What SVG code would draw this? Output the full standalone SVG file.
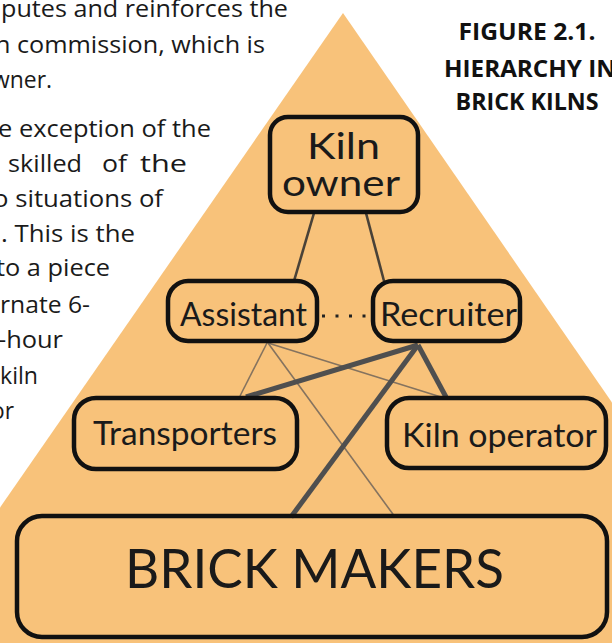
<svg xmlns="http://www.w3.org/2000/svg" width="612" height="643" viewBox="0 0 612 643">
<style>
.body{font-family:"Open Sans","Liberation Sans",sans-serif;font-size:24px;fill:#1a1a1a}
.title{font-family:"Open Sans","Liberation Sans",sans-serif;font-size:24px;font-weight:bold;fill:#111}
.box{fill:none;stroke:#111;stroke-width:4.5}
.lbl{font-family:Lato,"Noto Sans",sans-serif;fill:#1a1a1a}
.mid{font-size:33px}
.thin{stroke:#85735f;stroke-width:1.6;fill:none}
.med{stroke:#4a4238;stroke-width:2.6;fill:none}
.thick{stroke:#4f4f4f;stroke-width:5;fill:none}
</style>
<rect x="0" y="0" width="612" height="643" fill="#fff"/>
<polygon id="pyramid" points="343,13 778,643 -94,643" fill="#F8C27A"/>

<g id="page-text">
<text class="body" x="1" y="17" textLength="287" lengthAdjust="spacingAndGlyphs">putes and reinforces the</text>
<text class="body" x="-5" y="53" textLength="270" lengthAdjust="spacingAndGlyphs">n commission, which is</text>
<text class="body" x="-8" y="88" textLength="60" lengthAdjust="spacingAndGlyphs">wner.</text>
<text class="body" x="-2" y="137" textLength="213" lengthAdjust="spacingAndGlyphs">e exception of the</text>
<text class="body" y="172"><tspan x="8" textLength="74" lengthAdjust="spacingAndGlyphs">skilled</tspan><tspan x="102" textLength="25" lengthAdjust="spacingAndGlyphs">of</tspan><tspan x="140" textLength="47" lengthAdjust="spacingAndGlyphs">the</tspan></text>
<text class="body" x="-7" y="207" textLength="170" lengthAdjust="spacingAndGlyphs">o situations of</text>
<text class="body" x="1" y="242" textLength="134" lengthAdjust="spacingAndGlyphs">. This is the</text>
<text class="body" x="-4" y="276" textLength="114" lengthAdjust="spacingAndGlyphs">to a piece</text>
<text class="body" x="0" y="313" textLength="90" lengthAdjust="spacingAndGlyphs">rnate 6-</text>
<text class="body" x="-2" y="348" textLength="65" lengthAdjust="spacingAndGlyphs">-hour</text>
<text class="body" x="0" y="384" textLength="38" lengthAdjust="spacingAndGlyphs">kiln</text>
<text class="body" x="-9" y="419" textLength="23" lengthAdjust="spacingAndGlyphs">or</text>
</g>

<g id="figure-title">
<text class="title" x="527" y="40" text-anchor="middle" textLength="137" lengthAdjust="spacingAndGlyphs">FIGURE 2.1.</text>
<text class="title" x="444" y="77" textLength="172" lengthAdjust="spacingAndGlyphs">HIERARCHY IN</text>
<text class="title" x="527" y="110" text-anchor="middle" textLength="143" lengthAdjust="spacingAndGlyphs">BRICK KILNS</text>
</g>

<g id="connectors">
<line class="med" x1="314" y1="213" x2="294" y2="281"/>
<line class="med" x1="366" y1="213" x2="384" y2="281"/>
<line x1="322" y1="316" x2="366" y2="316" stroke="#222" stroke-width="3" stroke-dasharray="3 10.5"/>
<line class="thin" x1="267" y1="343" x2="240" y2="396"/>
<line class="thin" x1="268" y1="343" x2="441" y2="397"/>
<line class="thin" x1="268" y1="343" x2="395" y2="517"/>
<line class="thick" x1="418" y1="345" x2="246" y2="397"/>
<line class="thick" x1="418" y1="345" x2="446" y2="397"/>
<line class="thick" x1="418" y1="345" x2="291" y2="517"/>
</g>

<g id="kiln-owner">
<rect class="box" x="270" y="117" width="148" height="95" rx="18"/>
<text class="lbl" x="343.5" y="159" font-size="36" text-anchor="middle" textLength="73" lengthAdjust="spacingAndGlyphs">Kiln</text>
<text class="lbl" x="341" y="196" font-size="36" text-anchor="middle" textLength="118" lengthAdjust="spacingAndGlyphs">owner</text>
</g>

<g id="assistant">
<rect class="box" x="168" y="281" width="149" height="60" rx="20"/>
<text class="lbl mid" x="180" y="326" textLength="127" lengthAdjust="spacingAndGlyphs">Assistant</text>
</g>

<g id="recruiter">
<rect class="box" x="373" y="281" width="147" height="60" rx="20"/>
<text class="lbl mid" x="380" y="326" textLength="137" lengthAdjust="spacingAndGlyphs">Recruiter</text>
</g>

<g id="transporters">
<rect class="box" x="74" y="398" width="223" height="71" rx="22"/>
<text class="lbl mid" x="93" y="445" textLength="184" lengthAdjust="spacingAndGlyphs">Transporters</text>
</g>

<g id="kiln-operator">
<rect class="box" x="387" y="398" width="219" height="70" rx="22"/>
<text class="lbl mid" x="402" y="447" textLength="195" lengthAdjust="spacingAndGlyphs">Kiln operator</text>
</g>

<g id="brick-makers">
<rect class="box" x="17" y="516" width="590" height="121" rx="25"/>
<text class="lbl" x="125" y="588" font-size="55" textLength="379" lengthAdjust="spacingAndGlyphs">BRICK MAKERS</text>
</g>
</svg>
